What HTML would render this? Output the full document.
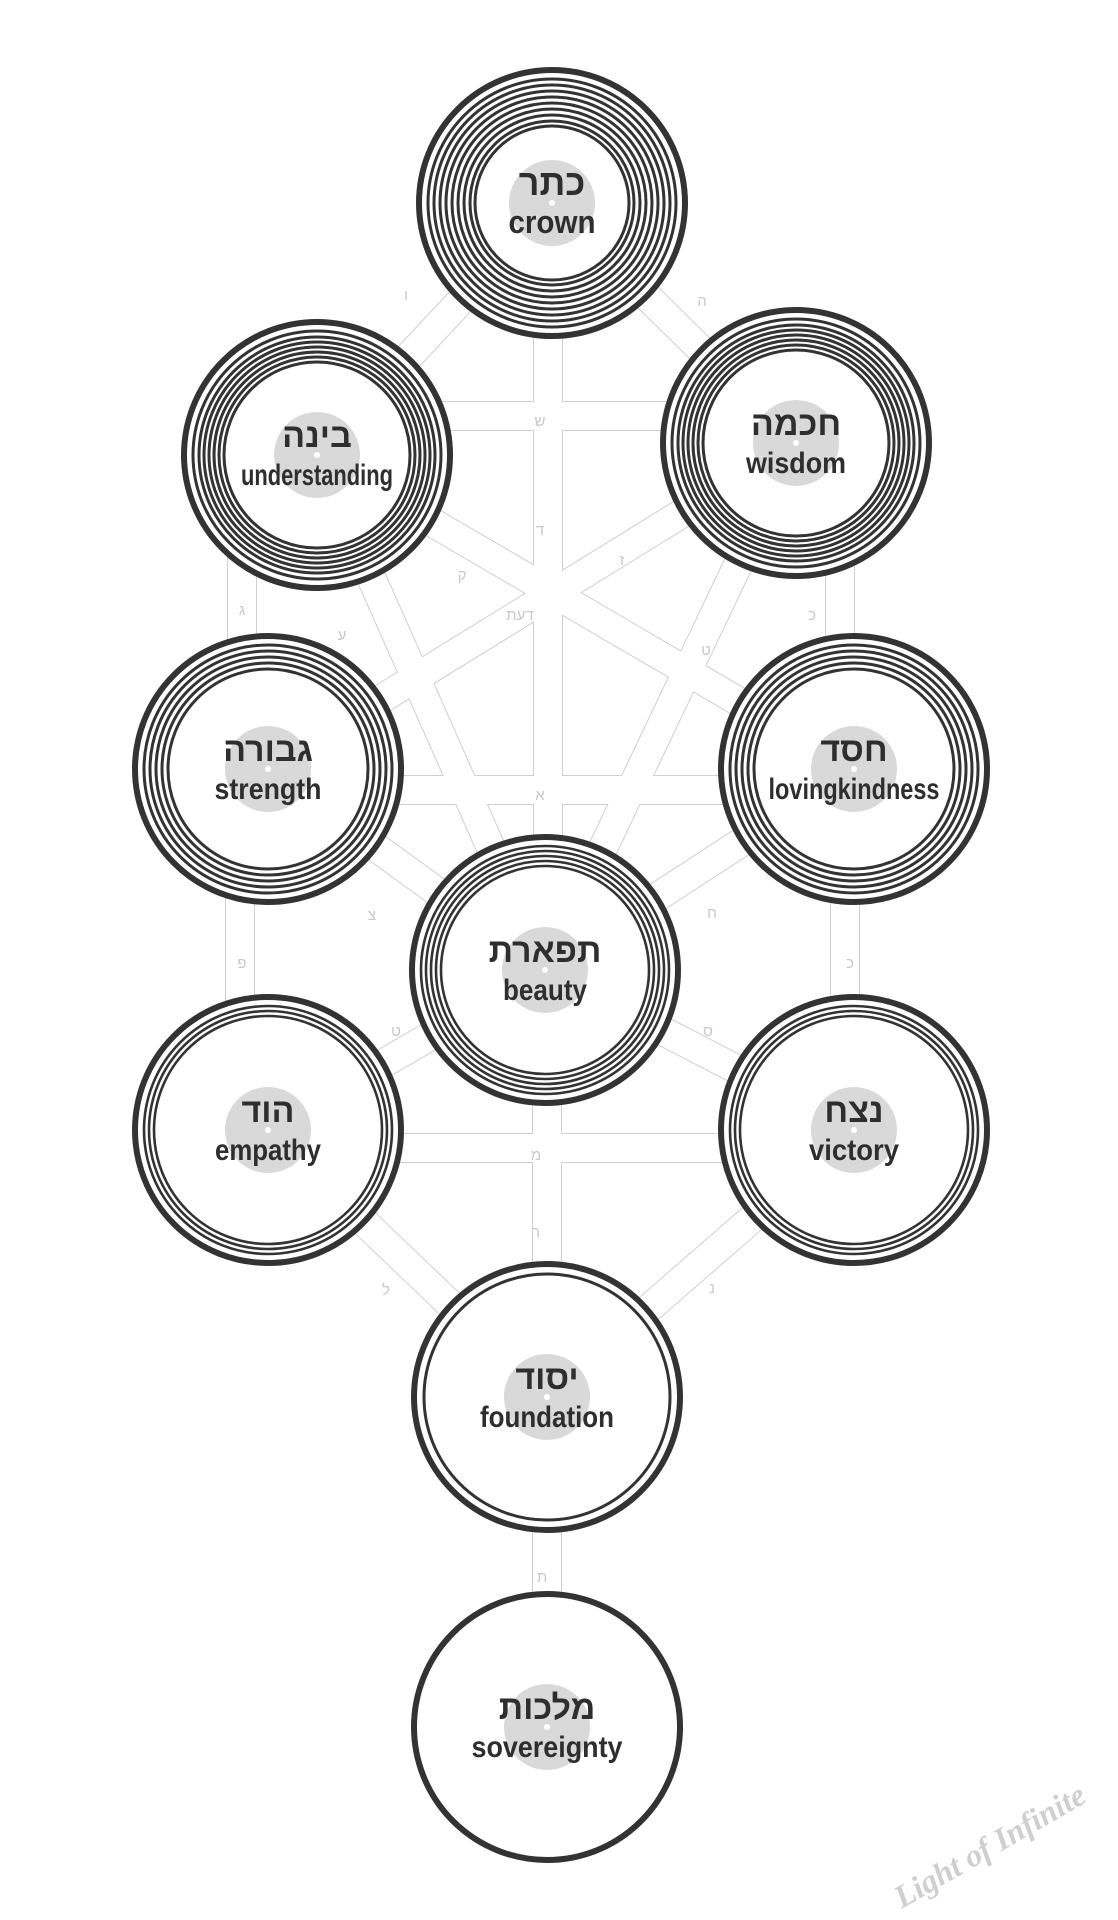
<!DOCTYPE html>
<html><head><meta charset="utf-8"><style>
html,body{margin:0;padding:0;background:#fff;}
svg{display:block}
.he{font-family:"Liberation Sans","Noto Sans CJK SC",sans-serif;font-weight:bold;fill:#2e2e2e;text-anchor:middle}
.en{font-family:"Liberation Sans Narrow","Liberation Sans",sans-serif;font-weight:bold;fill:#2e2e2e;text-anchor:middle}
.pl{font-family:"Liberation Sans",sans-serif;fill:#c8c8c8;font-size:15px;text-anchor:middle}
</style></head><body>
<svg width="1118" height="1920" viewBox="0 0 1118 1920" xmlns="http://www.w3.org/2000/svg">
<rect width="1118" height="1920" fill="#fff"/>
<g stroke-linecap="butt" fill="none">
<g stroke="#cfcfcf" stroke-width="30">
<line x1="552" y1="203" x2="317" y2="455"/><line x1="552" y1="203" x2="796" y2="443"/>
<line x1="548" y1="203" x2="548" y2="970"/>
<line x1="317" y1="416" x2="796" y2="416"/>
<line x1="242" y1="455" x2="242" y2="769"/><line x1="840" y1="443" x2="840" y2="769"/>
<line x1="317" y1="455" x2="545" y2="970"/><line x1="796" y1="443" x2="545" y2="970"/>
<line x1="317" y1="455" x2="854" y2="769"/><line x1="796" y1="443" x2="268" y2="769"/>
<line x1="268" y1="790" x2="854" y2="790"/>
<line x1="268" y1="769" x2="545" y2="970"/><line x1="854" y1="769" x2="545" y2="970"/>
<line x1="240" y1="769" x2="240" y2="1130"/><line x1="845" y1="769" x2="845" y2="1130"/>
<line x1="545" y1="970" x2="268" y2="1130"/><line x1="545" y1="970" x2="854" y2="1130"/>
<line x1="268" y1="1148" x2="854" y2="1148"/>
<line x1="547" y1="970" x2="547" y2="1397"/>
<line x1="268" y1="1130" x2="547" y2="1397"/><line x1="854" y1="1130" x2="547" y2="1397"/>
<line x1="547" y1="1397" x2="547" y2="1727"/>
</g>
<g stroke="#fff" stroke-width="28">
<line x1="552" y1="203" x2="317" y2="455"/><line x1="552" y1="203" x2="796" y2="443"/>
<line x1="548" y1="203" x2="548" y2="970"/>
<line x1="317" y1="416" x2="796" y2="416"/>
<line x1="242" y1="455" x2="242" y2="769"/><line x1="840" y1="443" x2="840" y2="769"/>
<line x1="317" y1="455" x2="545" y2="970"/><line x1="796" y1="443" x2="545" y2="970"/>
<line x1="317" y1="455" x2="854" y2="769"/><line x1="796" y1="443" x2="268" y2="769"/>
<line x1="268" y1="790" x2="854" y2="790"/>
<line x1="268" y1="769" x2="545" y2="970"/><line x1="854" y1="769" x2="545" y2="970"/>
<line x1="240" y1="769" x2="240" y2="1130"/><line x1="845" y1="769" x2="845" y2="1130"/>
<line x1="545" y1="970" x2="268" y2="1130"/><line x1="545" y1="970" x2="854" y2="1130"/>
<line x1="268" y1="1148" x2="854" y2="1148"/>
<line x1="547" y1="970" x2="547" y2="1397"/>
<line x1="268" y1="1130" x2="547" y2="1397"/><line x1="854" y1="1130" x2="547" y2="1397"/>
<line x1="547" y1="1397" x2="547" y2="1727"/>
</g>
</g>
<g class="pl">
<text x="406" y="300">ו</text><text x="702" y="306">ה</text><text x="540" y="426">ש</text>
<text x="540" y="535">ד</text><text x="622" y="565">ז</text><text x="462" y="580">ק</text>
<text x="520" y="620">דעת</text><text x="242" y="615">ג</text><text x="812" y="620">כ</text>
<text x="342" y="640">ע</text><text x="706" y="655">ט</text><text x="540" y="800">א</text>
<text x="372" y="920">צ</text><text x="712" y="918">ח</text><text x="242" y="968">פ</text>
<text x="850" y="968">כ</text><text x="396" y="1036">ט</text><text x="708" y="1036">ס</text>
<text x="536" y="1160">מ</text><text x="536" y="1237">ר</text><text x="386" y="1295">ל</text>
<text x="712" y="1293">נ</text><text x="542" y="1582">ת</text>
</g>
<g>
<g transform="translate(552,203)"><circle r="133" fill="#fff" stroke="#333" stroke-width="6"/>
<g fill="none" stroke="#333" stroke-width="3"><circle r="124"/><circle r="118"/><circle r="112"/><circle r="106"/><circle r="100"/><circle r="94"/><circle r="88"/><circle r="82"/><circle r="77"/></g>
<circle r="43" fill="#d9d9d9"/><circle r="3" fill="#fff"/>
<text class="he" y="-8" font-size="36">כתר</text><text class="en" y="30" font-size="32" textLength="87" lengthAdjust="spacingAndGlyphs">crown</text></g>
<g transform="translate(317,455)"><circle r="133" fill="#fff" stroke="#333" stroke-width="6"/>
<g fill="none" stroke="#333" stroke-width="3"><circle r="124"/><circle r="118"/><circle r="113"/><circle r="108"/><circle r="103"/><circle r="98"/><circle r="93"/></g>
<circle r="43" fill="#d9d9d9"/><circle r="3" fill="#fff"/>
<text class="he" y="-8" font-size="34">בינה</text><text class="en" y="30" font-size="30" textLength="152" lengthAdjust="spacingAndGlyphs">understanding</text></g>
<g transform="translate(796,443)"><circle r="133" fill="#fff" stroke="#333" stroke-width="6"/>
<g fill="none" stroke="#333" stroke-width="3"><circle r="124"/><circle r="118"/><circle r="113"/><circle r="108"/><circle r="103"/><circle r="98"/><circle r="93"/></g>
<circle r="43" fill="#d9d9d9"/><circle r="3" fill="#fff"/>
<text class="he" y="-8" font-size="34">חכמה</text><text class="en" y="30" font-size="30" textLength="100" lengthAdjust="spacingAndGlyphs">wisdom</text></g>
<g transform="translate(268,769)"><circle r="133" fill="#fff" stroke="#333" stroke-width="6"/>
<g fill="none" stroke="#333" stroke-width="3"><circle r="124"/><circle r="118"/><circle r="112"/><circle r="106"/><circle r="100"/></g>
<circle r="43" fill="#d9d9d9"/><circle r="3" fill="#fff"/>
<text class="he" y="-8" font-size="34">גבורה</text><text class="en" y="30" font-size="30" textLength="107" lengthAdjust="spacingAndGlyphs">strength</text></g>
<g transform="translate(854,769)"><circle r="133" fill="#fff" stroke="#333" stroke-width="6"/>
<g fill="none" stroke="#333" stroke-width="3"><circle r="124"/><circle r="118"/><circle r="112"/><circle r="106"/><circle r="100"/></g>
<circle r="43" fill="#d9d9d9"/><circle r="3" fill="#fff"/>
<text class="he" y="-8" font-size="34">חסד</text><text class="en" y="30" font-size="30" textLength="171" lengthAdjust="spacingAndGlyphs">lovingkindness</text></g>
<g transform="translate(545,970)"><circle r="133" fill="#fff" stroke="#333" stroke-width="6"/>
<g fill="none" stroke="#333" stroke-width="2.6"><circle r="124"/><circle r="119"/><circle r="114"/><circle r="109"/><circle r="104"/></g>
<circle r="43" fill="#d9d9d9"/><circle r="3" fill="#fff"/>
<text class="he" y="-8" font-size="34">תפארת</text><text class="en" y="30" font-size="30" textLength="84" lengthAdjust="spacingAndGlyphs">beauty</text></g>
<g transform="translate(268,1130)"><circle r="133" fill="#fff" stroke="#333" stroke-width="6"/>
<g fill="none" stroke="#333" stroke-width="2.6"><circle r="124"/><circle r="119"/><circle r="114"/></g>
<circle r="43" fill="#d9d9d9"/><circle r="3" fill="#fff"/>
<text class="he" y="-8" font-size="34">הוד</text><text class="en" y="30" font-size="30" textLength="106" lengthAdjust="spacingAndGlyphs">empathy</text></g>
<g transform="translate(854,1130)"><circle r="133" fill="#fff" stroke="#333" stroke-width="6"/>
<g fill="none" stroke="#333" stroke-width="2.6"><circle r="124"/><circle r="119"/><circle r="114"/></g>
<circle r="43" fill="#d9d9d9"/><circle r="3" fill="#fff"/>
<text class="he" y="-8" font-size="34">נצח</text><text class="en" y="30" font-size="30" textLength="90" lengthAdjust="spacingAndGlyphs">victory</text></g>
<g transform="translate(547,1397)"><circle r="133" fill="#fff" stroke="#333" stroke-width="6"/>
<circle r="123" fill="none" stroke="#333" stroke-width="3"/>
<circle r="43" fill="#d9d9d9"/><circle r="3" fill="#fff"/>
<text class="he" y="-8" font-size="34">יסוד</text><text class="en" y="30" font-size="30" textLength="134" lengthAdjust="spacingAndGlyphs">foundation</text></g>
<g transform="translate(547,1727)"><circle r="133" fill="#fff" stroke="#333" stroke-width="6"/>
<circle r="43" fill="#d9d9d9"/><circle r="3" fill="#fff"/>
<text class="he" y="-8" font-size="34">מלכות</text><text class="en" y="30" font-size="30" textLength="151" lengthAdjust="spacingAndGlyphs">sovereignty</text></g>
</g>
<text x="995" y="1855" transform="rotate(-30 995 1855)" font-family="Liberation Serif,serif" font-style="italic" font-weight="bold" font-size="32" fill="#cfcfcf" text-anchor="middle" textLength="215" lengthAdjust="spacingAndGlyphs">Light of Infinite</text>
</svg>
</body></html>
